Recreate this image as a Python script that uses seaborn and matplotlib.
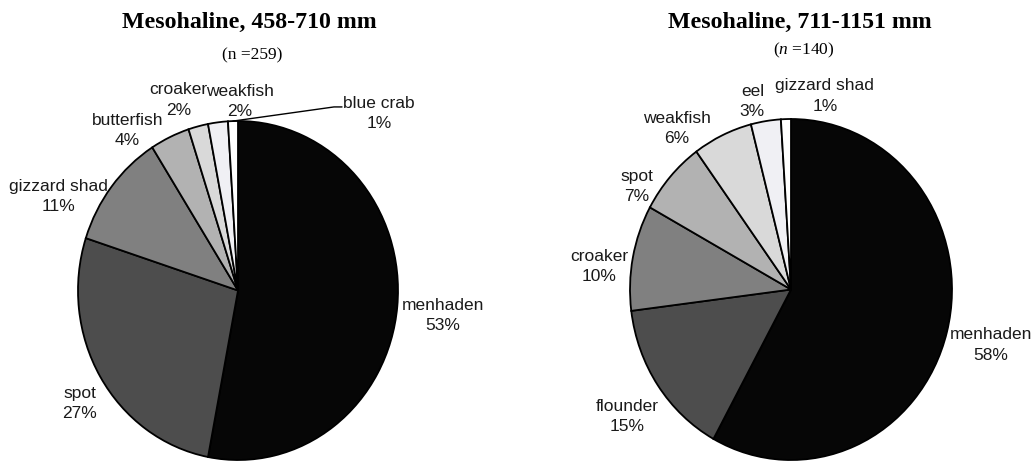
import numpy as np
import matplotlib
matplotlib.use('Agg')
import matplotlib.pyplot as plt
import seaborn as sns

# Data (percent of diet)
left_names = ['menhaden', 'spot', 'gizzard shad', 'butterfish', 'croaker', 'weakfish', 'blue crab']
left_pct = [53, 27, 11, 4, 2, 2, 1]
right_names = ['menhaden', 'flounder', 'croaker', 'spot', 'weakfish', 'eel', 'gizzard shad']
right_pct = [58, 15, 10, 7, 6, 3, 1]

left_title = 'Mesohaline, 458-710 mm'
right_title = 'Mesohaline, 711-1151 mm'
left_n = 259
right_n = 140

# grey shades, darkest first (same order as slices)
greys = ['#060606', '#4d4d4d', '#808080', '#b2b2b2', '#d9d9d9', '#f0f0f4', '#ffffff']

# where excel put the labels (axes data units, pie radius = 1)
left_label_xy = [(1.28, -0.14), (-0.99, -0.66), (-1.12, 0.56), (-0.69, 0.95),
                 (-0.37, 1.13), (0.01, 1.12), (0.88, 1.05)]
right_label_xy = [(1.24, -0.32), (-1.02, -0.74), (-1.19, 0.14), (-0.96, 0.61),
                  (-0.71, 0.95), (-0.24, 1.11), (0.21, 1.14)]

sns.set_theme(style='white')
plt.rcParams['font.family'] = ['Liberation Sans', 'DejaVu Sans']
plt.rcParams['text.color'] = '#111111'
plt.rcParams['mathtext.fontset'] = 'custom'
plt.rcParams['mathtext.rm'] = 'Liberation Serif'
plt.rcParams['mathtext.it'] = 'Liberation Serif:italic'

W, H = 1034, 464
fig = plt.figure(figsize=(W / 100, H / 100), dpi=100)
fig.patch.set_facecolor('white')


def draw_pie(ax, names, pct, label_xy):
    wedges, _ = ax.pie(pct, colors=greys[:len(pct)], startangle=90, counterclock=False,
                       wedgeprops={'edgecolor': 'black', 'linewidth': 1.3})
    ax.set_aspect('auto')
    ax.set_xlim(-1, 1)
    ax.set_ylim(-1, 1)
    ax.axis('off')
    for name, p, (x, y) in zip(names, pct, label_xy):
        ax.text(x, y, f'{name}\n{p}%', ha='center', va='center', fontsize=12.5,
                color='#1a1a1a', linespacing=1.45, clip_on=False)
    return wedges


ax1 = fig.add_axes([78 / W, 3 / H, 320 / W, 339 / H])
w1 = draw_pie(ax1, left_names, left_pct, left_label_xy)
# leader line for the tiny blue crab slice
wb = w1[-1]
ang = np.deg2rad((wb.theta1 + wb.theta2) / 2)
ax1.plot([np.cos(ang), 0.60, 0.65], [np.sin(ang), 1.083, 1.083], color='black',
         lw=1.0, clip_on=False)

ax2 = fig.add_axes([630 / W, 3 / H, 322 / W, 341 / H])
draw_pie(ax2, right_names, right_pct, right_label_xy)

# titles
fig.text(249 / W, 1 - 22 / H, left_title, ha='center', va='center', color='black',
         fontsize=17.2, fontweight='bold', family='Liberation Serif')
fig.text(252 / W, 1 - 55 / H, f'(n ={left_n})', ha='center', va='center', color='black',
         fontsize=12.5, family='Liberation Serif')
fig.text(800 / W, 1 - 22 / H, right_title, ha='center', va='center', color='black',
         fontsize=17.2, fontweight='bold', family='Liberation Serif')
fig.text(804 / W, 1 - 50 / H, r'($n$ =' + f'{right_n})', ha='center', va='center',
         color='black', fontsize=12.5, family='Liberation Serif')

plt.savefig('out.png', dpi=100, facecolor='white')
